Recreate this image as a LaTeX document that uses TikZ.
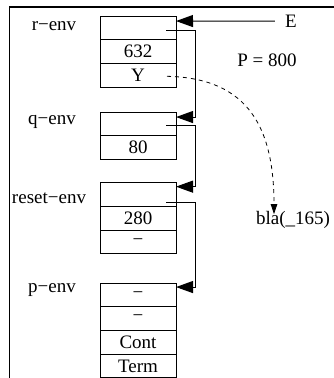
\documentclass[tikz,border=0pt]{standalone}
\usepackage{fontspec}
\setmainfont{Liberation Serif}
\usetikzlibrary{arrows.meta}
\begin{document}
\begin{tikzpicture}[x=1pt,y=-1pt,
  txt/.style={font=\fontsize{19}{21}\selectfont},
  cell/.style={draw,line width=1pt,minimum width=76pt,minimum height=23.7pt,inner sep=0pt,outer sep=0pt,txt},
  lbl/.style={inner sep=0pt,txt},
  ptr/.style={line width=1pt,-{Triangle[length=17pt,width=12pt]}},
  dptr/.style={line width=0.8pt,dash pattern=on 4pt off 4pt,-{Triangle[length=10pt,width=6.5pt]}}]
\useasboundingbox (0,0) rectangle (334,378);
\draw[line width=1.4pt] (9.3,378) -- (9.3,7) -- (334,7);
% r-env
\node[lbl] (rl) at (54,26) {r−env};
\node[cell] (r1) at (138,27.9) {};
\node[cell] (r2) at (138,51.6) {632};
\node[cell] (r3) at (138,75.3) {Y};
% q-env
\node[lbl] (ql) at (52,122) {q−env};
\node[cell] (q1) at (138,123.9) {};
\node[cell] (q2) at (138,147.6) {80};
% reset-env
\node[lbl] (sl) at (49,198) {reset−env};
\node[cell] (s1) at (138,194.5) {};
\node[cell] (s2) at (138,218.2) {280};
\node[cell] (s3) at (138,241.9) {−};
% p-env
\node[lbl] (pl) at (52,290) {p−env};
\node[cell] (p1) at (138,294.9) {−};
\node[cell] (p2) at (138,318.6) {−};
\node[cell] (p3) at (138,342.3) {Cont};
\node[cell] (p4) at (138,366) {Term};
% right side labels
\node[lbl] (E) at (291,21) {E};
\node[lbl] (P) at (267,60) {P = 800};
\node[lbl] (bla) at (293,220) {bla(\_165)};
% pointer start points and targets
\coordinate (rs) at ([xshift=-10pt,yshift=-3pt]r1.east);
\coordinate (qs) at ([xshift=-10pt,yshift=-2pt]q1.east);
\coordinate (ss) at ([xshift=-10pt,yshift=-7.8pt]s1.east);
\coordinate (rt) at ([yshift=-5pt]r1.north east);
\coordinate (qt) at ([yshift=-5pt]q1.north east);
\coordinate (st) at ([yshift=-4pt]s1.north east);
\coordinate (pt) at ([yshift=-4pt]p1.north east);
\coordinate (ys) at ([xshift=-9pt,yshift=-1pt]r3.east);
% connectors
\draw[ptr] ([xshift=-10pt]E.west) -- (rt);
\draw[ptr] (rs) -| ([xshift=19pt]qt) -- (qt);
\draw[ptr] (qs) -| ([xshift=19pt]st) -- (st);
\draw[ptr] (ss) -| ([xshift=19pt]pt) -- (pt);
\draw[dptr] (ys) .. controls (250,78) and (274,130) .. ([yshift=-3pt]bla.north -| 274,0);
\end{tikzpicture}
\end{document}
